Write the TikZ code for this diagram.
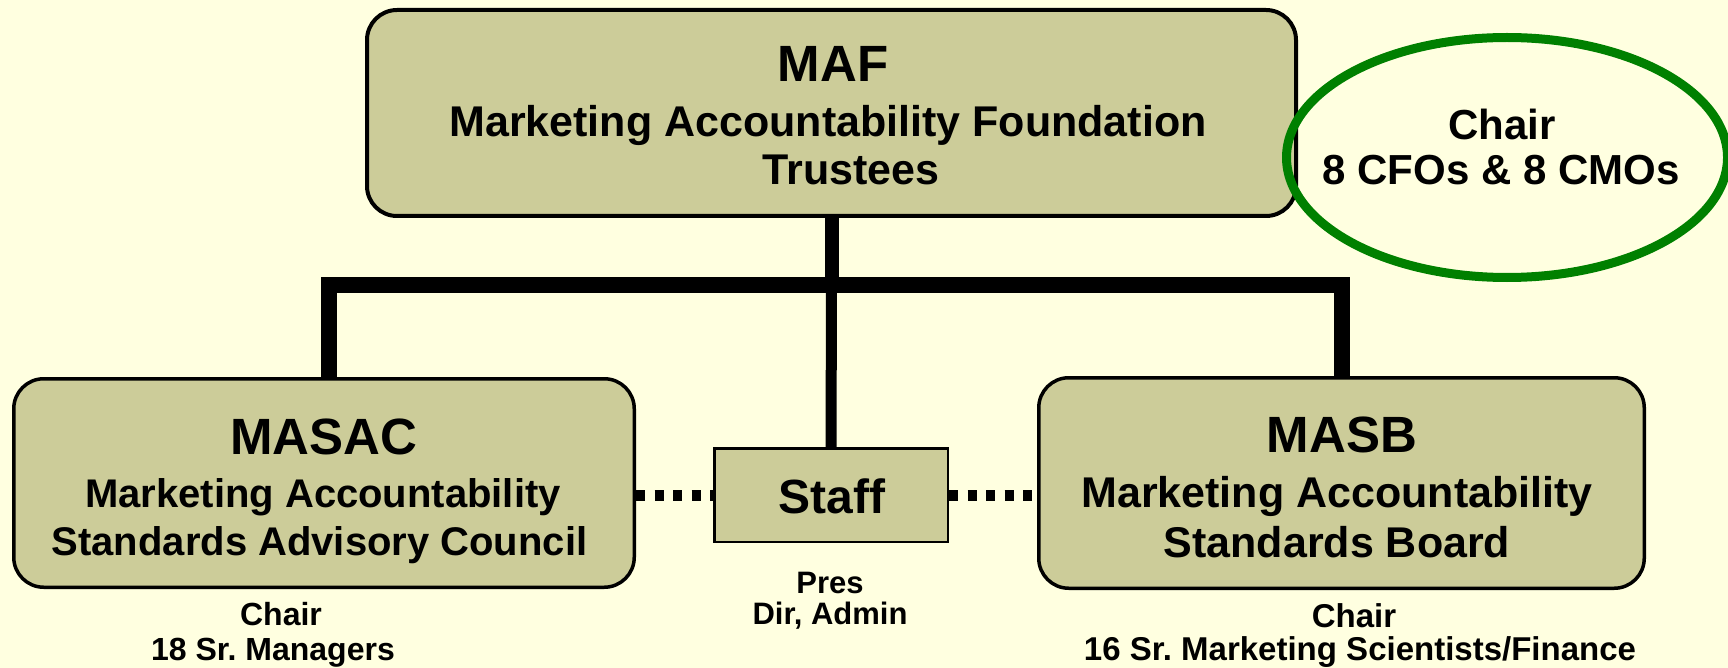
\documentclass[tikz,border=0pt]{standalone}
\usepackage{fontspec}
\setmainfont{Liberation Sans}
\usetikzlibrary{shapes.geometric}
\frenchspacing

\definecolor{paper}{HTML}{FFFFE0}
\definecolor{khaki}{HTML}{CCCC99}
\definecolor{ringgreen}{HTML}{008000}

\newcommand{\fs}[1]{\fontsize{#1}{#1}\selectfont\bfseries}

\begin{document}
\begin{tikzpicture}[x=1pt,y=-1pt,
  unit/.style={draw=black, fill=khaki, rounded corners=30pt, inner sep=0pt},
  staffbox/.style={draw=black, fill=khaki, line width=2.5pt, inner sep=0pt},
  ring/.style={ellipse, draw=ringgreen, line width=9pt, inner sep=0pt},
  bar/.style={line width=16pt, line join=miter},
  stem/.style={line width=14pt},
  stemthin/.style={line width=11pt},
  liaison/.style={line width=11pt, dash pattern=on 9pt off 9.5pt},
  lbl/.style={anchor=base, inner sep=0pt, text=black}]

% canvas
\fill[paper] (0,0) rectangle (1728,668);
\useasboundingbox (0,0) rectangle (1728,668);

% junctions on the horizontal bus
\coordinate (jl) at (329,285);
\coordinate (jc) at (831.5,285);
\coordinate (jr) at (1342,285);

% units
\node[unit, line width=4pt, minimum width=929pt, minimum height=206pt] (maf) at (831.5,113) {};
\node[unit, line width=3.5pt, minimum width=620.5pt, minimum height=208.5pt] (masac) at (324,483) {};
\node[unit, line width=3.5pt, minimum width=605.5pt, minimum height=210.5pt] (masb) at (1341.5,483) {};
\node[staffbox, minimum width=233.5pt, minimum height=93.5pt] (staff) at (831,495) {};

% reporting lines
\draw[stem] (maf.south) -- (jc);
\draw[bar] (jl |- masac.north) -- (jl) -- (jr) -- (jr |- masb.north);
\draw[stemthin] (jc) -- (staff.north);

% staff liaison
\draw[liaison] (staff.west -| masac.east) -- (staff.west);
\draw[liaison] (staff.east) -- (staff.east -| masb.west);

% trustee ring
\node[ring, minimum width=441pt, minimum height=240pt] (board) at (1507,157.5) {};

% MAF
\node[lbl, font=\fs{51}] (maft) at (833,82) {MAF};
\node[lbl, font=\fs{43}] (mafa) at (828,137) {Marketing Accountability Foundation};
\node[lbl, font=\fs{43}] (mafb) at (851,185) {Trustees};

% MASAC
\node[lbl, font=\fs{51}] (masact) at (324,454) {MASAC};
\node[lbl, font=\fs{40}] (masaca) at (323,507) {Marketing Accountability};
\node[lbl, font=\fs{40}] (masacb) at (319.5,555) {Standards Advisory Council};

% MASB
\node[lbl, font=\fs{51}] (masbt) at (1342,452) {MASB};
\node[lbl, font=\fs{43}] (masba) at (1337,507) {Marketing Accountability};
\node[lbl, font=\fs{43}] (masbb) at (1337,557) {Standards Board};

% Staff
\node[lbl, font=\fs{48}] (stafft) at (832,513) {Staff};
\node[lbl, font=\fs{31}] (staffa) at (830,593) {Pres};
\node[lbl, font=\fs{31}] (staffb) at (830,624) {Dir, Admin};

% membership notes
\node[lbl, font=\fs{32}] (masacn1) at (281,625) {Chair};
\node[lbl, font=\fs{32}] (masacn2) at (273,660) {18 Sr. Managers};
\node[lbl, font=\fs{33}] (masbn1) at (1354,627) {Chair};
\node[lbl, font=\fs{33}] (masbn2) at (1360,660) {16 Sr. Marketing Scientists/Finance};
\node[lbl, font=\fs{42}] (boarda) at (1502,140) {Chair};
\node[lbl, font=\fs{42}] (boardb) at (1501,185) {8 CFOs \& 8 CMOs};
\end{tikzpicture}
\end{document}
